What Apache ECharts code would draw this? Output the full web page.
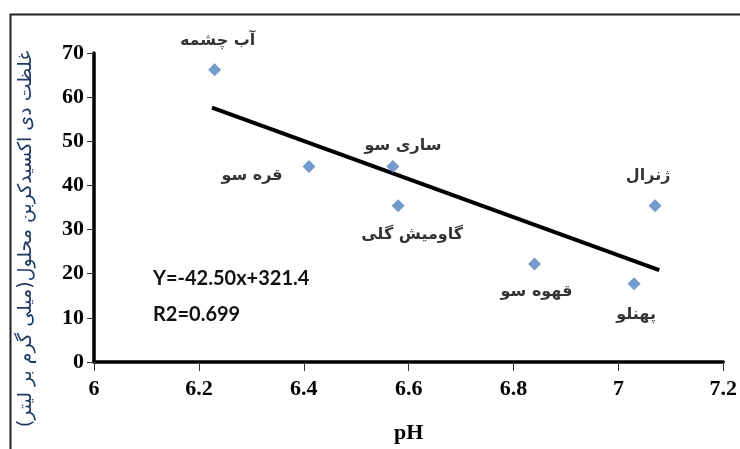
<!DOCTYPE html>
<html>
<head>
<meta charset="utf-8">
<script src="https://cdn.jsdelivr.net/npm/echarts@6/dist/echarts.min.js"></script>
<style>
html,body{margin:0;padding:0;background:#fff;overflow:hidden;}
#c{width:740px;height:449px;}
</style>
</head>
<body>
<div id="c"></div>
<script>
// Data
var stationNames = ['آب چشمه', 'قره سو', 'ساری سو', 'گاومیش گلی', 'ژنرال', 'قهوه سو', 'پهنلو'];
var phValues = [6.23, 6.41, 6.57, 6.58, 7.07, 6.84, 7.03];
var co2Values = [66.2, 44.3, 44.3, 35.4, 35.4, 22.2, 17.7];
var trendX = [6.225, 7.078];
var trendY = [57.6, 20.8];
var xTicks = [6, 6.2, 6.4, 6.6, 6.8, 7, 7.2];
var yTicks = [0, 10, 20, 30, 40, 50, 60, 70];
var equationText = 'Y=-42.50x+321.4';
var r2Text = 'R2=0.699';
var xTitle = 'pH';
var yTitle = 'غلظت دی اکسیدکربن محلول(میلی گرم بر لیتر)';

// label placement (style, kept separate from data)
var labelOffsets = {
  'آب چشمه': [3, -29],
  'قره سو': [-57, 9],
  'ساری سو': [10, -21],
  'گاومیش گلی': [14, 29],
  'ژنرال': [-7, -30],
  'قهوه سو': [2, 28],
  'پهنلو': [2, 31]
};

var points = stationNames.map(function (n, i) {
  return {
    name: n,
    value: [phValues[i], co2Values[i]],
    label: {
      show: true,
      formatter: n,
      position: 'inside',
      offset: labelOffsets[n],
      align: 'center',
      verticalAlign: 'middle',
      fontFamily: 'DejaVu Sans',
      fontWeight: 'bold',
      fontSize: 16,
      color: '#000'
    }
  };
});

var trendData = trendX.map(function (x, i) { return [x, trendY[i]]; });

var chart = echarts.init(document.getElementById('c'), null, {renderer: 'canvas'});
chart.setOption({
  animation: false,
  backgroundColor: '#fff',
  grid: {left: 94, right: 15, top: 53, bottom: 78, containLabel: false},
  xAxis: {
    type: 'value',
    min: 6, max: 7.2, interval: 0.2,
    name: xTitle,
    nameLocation: 'middle',
    nameGap: 60,
    nameTextStyle: {fontFamily: 'Liberation Serif', fontWeight: 'bold', fontSize: 22, color: '#000'},
    axisLine: {show: true, onZero: false, lineStyle: {color: '#000', width: 3.5}},
    axisTick: {show: true, inside: false, length: 9, lineStyle: {color: '#333', width: 1}},
    axisLabel: {
      fontFamily: 'Liberation Serif', fontWeight: 'bold', fontSize: 22, color: '#000', margin: 16,
      formatter: function (v) { var r = Math.round(v * 10) / 10; return xTicks.indexOf(r) >= 0 ? String(r) : ''; }
    },
    splitLine: {show: false}
  },
  yAxis: {
    type: 'value',
    min: 0, max: 70, interval: 10,
    axisLine: {show: true, onZero: false, lineStyle: {color: '#000', width: 3.5}},
    axisTick: {show: true, inside: false, length: 7, lineStyle: {color: '#333', width: 1}},
    axisLabel: {
      fontFamily: 'Liberation Serif', fontWeight: 'bold', fontSize: 22, color: '#000', margin: 10,
      formatter: function (v) { return yTicks.indexOf(v) >= 0 ? String(v) : ''; }
    },
    splitLine: {show: false}
  },
  graphic: [
    {type: 'rect', left: 8, top: 12, shape: {width: 760, height: 460}, style: {fill: 'none', stroke: '#222', lineWidth: 2}, silent: true},
    {type: 'text', x: 26, y: 239, rotation: Math.PI / 2, silent: true,
      style: {text: yTitle, fontFamily: 'DejaVu Sans', fontSize: 19, fill: '#1f3864', align: 'center', verticalAlign: 'middle'}},
    {type: 'text', left: 153, top: 269, style: {text: equationText, fontFamily: 'Lato', fontWeight: 'bold', fontSize: 20, fill: '#111'}},
    {type: 'text', left: 153, top: 305, style: {text: r2Text, fontFamily: 'Lato', fontWeight: 'bold', fontSize: 20, fill: '#111'}}
  ],
  series: [
    {
      type: 'line',
      data: trendData,
      symbol: 'none',
      lineStyle: {color: '#000', width: 4},
      silent: true,
      z: 2
    },
    {
      type: 'scatter',
      data: points,
      symbol: 'diamond',
      symbolSize: 13,
      itemStyle: {color: '#4f81bd'},
      z: 3
    }
  ]
});
</script>
</body>
</html>
